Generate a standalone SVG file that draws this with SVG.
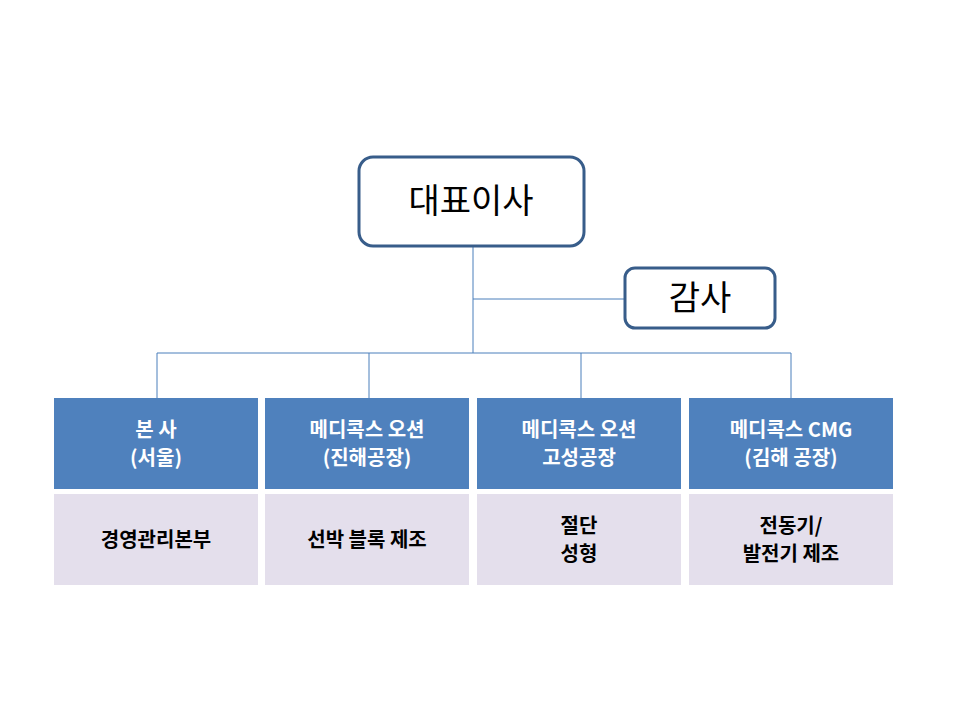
<svg xmlns="http://www.w3.org/2000/svg" width="960" height="720" viewBox="0 0 960 720">
<style>
text{font-family:"Noto Sans CJK KR","Liberation Sans",sans-serif;text-anchor:middle}
.top{fill:#fff;stroke:#385D8A;stroke-width:3}
.t1{font-size:34px;fill:#000}
.hd{fill:#4F81BD}
.ht{font-size:20px;font-weight:bold;fill:#fff}
.bd{fill:#E4DFEC}
.bt{font-size:20px;font-weight:bold;fill:#000}
.ln{stroke:#4A7EBB;stroke-width:1;fill:none}
</style>
<rect width="960" height="720" fill="#fff"/>
<g id="connectors">
<path class="ln" d="M473 246V353M473 299H625M157 353H791M157 353V398M369 353V398M581 353V398M791 353V398"/>
</g>
<g id="ceo"><rect class="top" x="359" y="157" width="225" height="89" rx="14"/><text class="t1" x="471" y="213">대표이사</text></g>
<g id="audit"><rect class="top" x="625" y="268" width="150" height="60" rx="10"/><text class="t1" x="700" y="310">감사</text></g>
<g id="hq"><rect class="hd" x="54" y="398" width="204" height="91"/><text class="ht" x="156" y="437">본 사</text><text class="ht" x="156" y="465">(서울)</text></g>
<g id="jinhae"><rect class="hd" x="265" y="398" width="204" height="91"/><text class="ht" x="367" y="437">메디콕스 오션</text><text class="ht" x="367" y="465">(진해공장)</text></g>
<g id="goseong"><rect class="hd" x="477" y="398" width="204" height="91"/><text class="ht" x="579" y="437">메디콕스 오션</text><text class="ht" x="579" y="465">고성공장</text></g>
<g id="cmg"><rect class="hd" x="689" y="398" width="204" height="91"/><text class="ht" x="791" y="437">메디콕스 CMG</text><text class="ht" x="791" y="465">(김해 공장)</text></g>
<g id="hq-d"><rect class="bd" x="54" y="494" width="204" height="91"/><text class="bt" x="156" y="547">경영관리본부</text></g>
<g id="jinhae-d"><rect class="bd" x="265" y="494" width="204" height="91"/><text class="bt" x="367" y="547">선박 블록 제조</text></g>
<g id="goseong-d"><rect class="bd" x="477" y="494" width="204" height="91"/><text class="bt" x="579" y="533">절단</text><text class="bt" x="579" y="561">성형</text></g>
<g id="cmg-d"><rect class="bd" x="689" y="494" width="204" height="91"/><text class="bt" x="791" y="533">전동기/</text><text class="bt" x="791" y="561">발전기 제조</text></g>
</svg>
